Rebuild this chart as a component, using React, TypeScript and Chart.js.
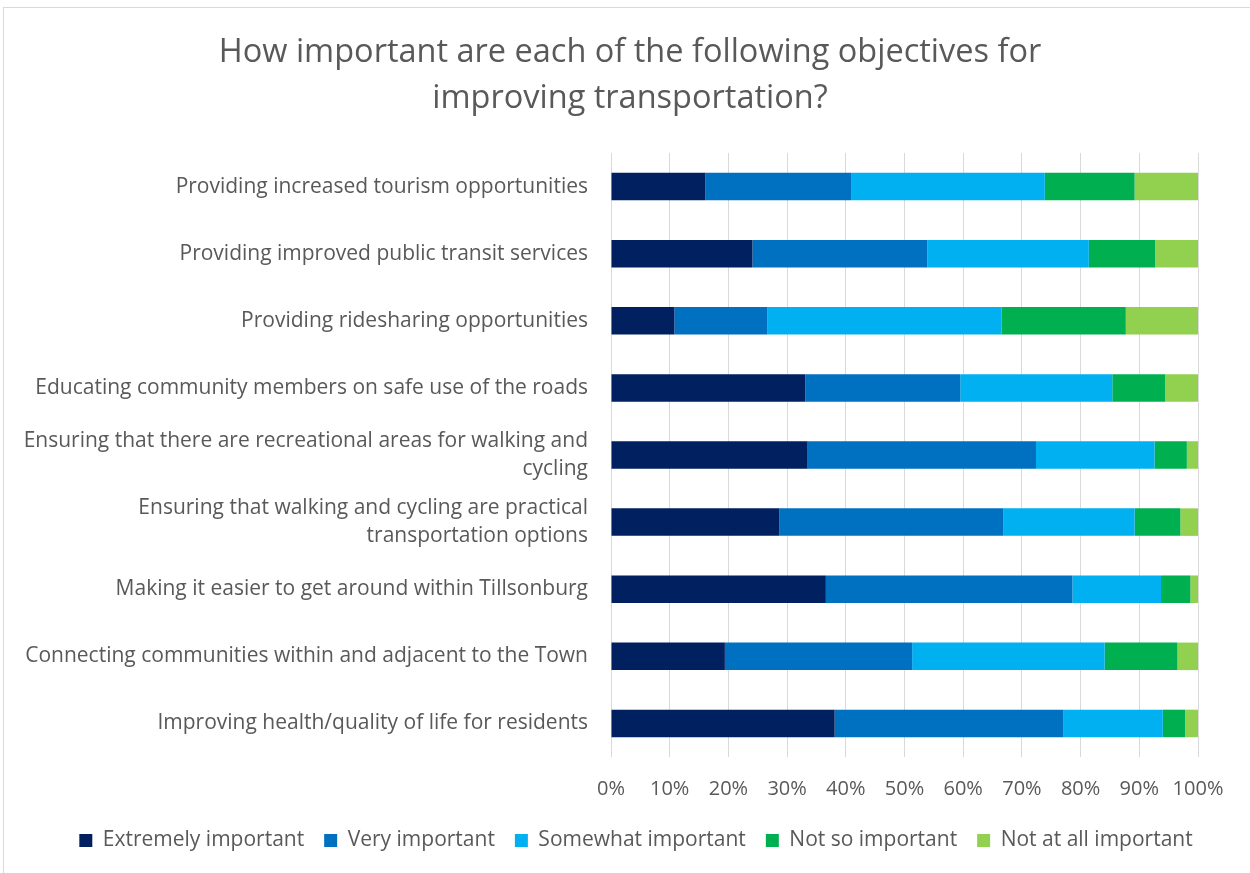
import React, { useEffect, useRef } from "react";
import { Chart, registerables } from "chart.js";

Chart.register(...registerables);

const categories: (string | string[])[] = [
  "Providing increased tourism opportunities",
  "Providing improved public transit services",
  "Providing ridesharing opportunities",
  "Educating community members on safe use of the roads",
  ["Ensuring that there are recreational areas for walking and", "cycling"],
  ["Ensuring that walking and cycling are practical", "transportation options"],
  "Making it easier to get around within Tillsonburg",
  "Connecting communities within and adjacent to the Town",
  "Improving health/quality of life for residents",
];

const extremelyImportant = [16.1, 24.1, 10.8, 33.1, 33.5, 28.7, 36.6, 19.4, 38.1];
const veryImportant = [24.8, 29.8, 15.8, 26.4, 38.9, 38.1, 42.0, 31.9, 39.0];
const somewhatImportant = [33.0, 27.5, 39.9, 25.9, 20.2, 22.4, 15.1, 32.8, 16.9];
const notSoImportant = [15.3, 11.3, 21.2, 9.0, 5.5, 7.8, 5.0, 12.4, 3.8];
const notAtAllImportant = [10.8, 7.3, 12.3, 5.6, 1.9, 3.0, 1.3, 3.5, 2.2];

const seriesNames = [
  "Extremely important",
  "Very important",
  "Somewhat important",
  "Not so important",
  "Not at all important",
];
const seriesColors = ["#002060", "#0070C0", "#00B0F0", "#00B050", "#92D050"];

const titleLines = [
  "How important are each of the following objectives for",
  "improving transportation?",
];

const FONT = "'Open Sans', sans-serif";
const TEXT = "#595959";

// Re-centre the title and legend boxes horizontally after layout
const recenterPlugin = {
  id: "recenter",
  afterLayout(chart: any) {
    const t = chart.titleBlock;
    if (t) {
      t.left = 60;
      t.right = 1200;
      t.width = t.right - t.left;
    }
    const l = chart.legend;
    if (l) {
      const dx = 35;
      l.left += dx;
      l.right += dx;
    }
  },
};

export default function App() {
  const ref = useRef<HTMLCanvasElement | null>(null);

  useEffect(() => {
    if (!ref.current) return;
    const values = [
      extremelyImportant,
      veryImportant,
      somewhatImportant,
      notSoImportant,
      notAtAllImportant,
    ];
    const chart = new Chart(ref.current, {
      type: "bar",
      data: {
        labels: categories as any,
        datasets: values.map((v, i) => ({
          label: seriesNames[i],
          data: v,
          backgroundColor: seriesColors[i],
          borderWidth: 0,
          barPercentage: 0.41,
          categoryPercentage: 1,
        })),
      },
      plugins: [recenterPlugin],
      options: {
        indexAxis: "y",
        animation: false,
        responsive: false,
        maintainAspectRatio: false,
        layout: { padding: { left: 4, right: 52, top: 0, bottom: 12 } },
        plugins: {
          title: {
            display: true,
            text: titleLines,
            color: TEXT,
            font: { family: FONT, size: 32.5, weight: "normal", lineHeight: 1.4 },
            padding: { top: 30, bottom: 32 },
          },
          legend: {
            position: "bottom",
            labels: {
              color: TEXT,
              font: { family: FONT, size: 21 },
              boxWidth: 13,
              boxHeight: 13,
              padding: 20,
            },
          },
          tooltip: { enabled: false },
        },
        scales: {
          x: {
            stacked: true,
            min: 0,
            max: 100,
            ticks: {
              stepSize: 10,
              color: TEXT,
              font: { family: FONT, size: 20 },
              padding: 20,
              callback: (v: any) => v + "%",
            },
            grid: { color: "#D9D9D9", lineWidth: 1, drawTicks: false },
            border: { display: false },
            afterFit: (s: any) => {
              s.height = 53;
            },
          },
          y: {
            stacked: true,
            ticks: {
              color: TEXT,
              font: { family: FONT, size: 21, lineHeight: 1.33 },
              padding: 23,
            },
            grid: { display: false, drawTicks: false },
            border: { display: false },
            afterFit: (s: any) => {
              s.width = 607;
            },
          },
        },
      },
    });
    return () => chart.destroy();
  }, []);

  return (
    <div
      style={{
        position: "fixed",
        left: 0,
        top: 0,
        width: 1250,
        height: 873,
        overflow: "hidden",
        background: "#fff",
      }}
    >
      <div
        style={{
          position: "absolute",
          left: 3,
          top: 7,
          width: 1300,
          height: 900,
          border: "1px solid #D9D9D9",
        }}
      />
      <canvas
        ref={ref}
        width={1250}
        height={873}
        style={{ position: "absolute", left: 0, top: 0 }}
      />
    </div>
  );
}
